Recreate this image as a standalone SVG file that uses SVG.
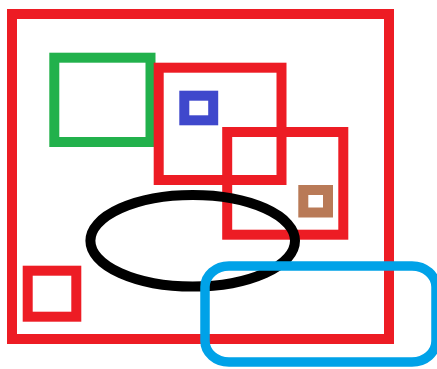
<svg xmlns="http://www.w3.org/2000/svg" width="437" height="369" viewBox="0 0 437 369">
<style>
.s{fill:none;stroke-width:10;stroke-linejoin:miter}
.red{stroke:#ED1C24}
.green{stroke:#22B14C}
.blue{stroke:#3F48CC}
.brown{stroke:#B97A57}
.black{stroke:#000}
.cyan{stroke:#00A2E8;stroke-width:9.5}
</style>
<rect width="437" height="369" fill="#fff"/>
<g id="outer"><rect class="s red" x="12" y="14" width="377" height="325"/></g>
<g id="green-box"><rect class="s green" x="54.3" y="57.7" width="96.2" height="84.3"/></g>
<g id="red-box-1"><rect class="s red" x="158.7" y="67.7" width="122.8" height="112.3"/></g>
<g id="blue-box"><rect class="s blue" x="184.3" y="95.7" width="28.9" height="24.6"/></g>
<g id="red-box-2"><rect class="s red" x="227.2" y="132" width="116.1" height="102.7"/></g>
<g id="brown-box"><rect class="s brown" x="303.3" y="190" width="24.7" height="22.5"/></g>
<g id="small-red-box"><rect class="s red" x="27.7" y="270.7" width="48.6" height="46"/></g>
<g id="ellipse"><ellipse class="s black" cx="192.7" cy="240.8" rx="102.3" ry="45.8"/></g>
<g id="cyan-box"><rect class="s cyan" x="205" y="266" width="231" height="96" rx="24" ry="21"/></g>
</svg>
